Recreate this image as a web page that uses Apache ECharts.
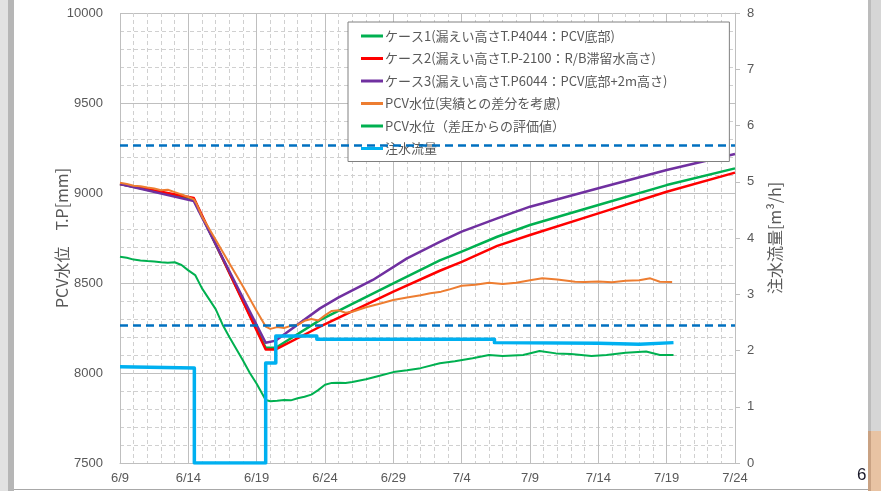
<!DOCTYPE html>
<html>
<head>
<meta charset="utf-8">
<script src="https://cdn.jsdelivr.net/npm/echarts@6/dist/echarts.min.js"></script>
<style>
html,body{margin:0;padding:0;background:#fff;}
#chart{width:881px;height:491px;}
</style>
</head>
<body>
<div id="chart"></div>
<script>
// x = days since 6/9
const xTickLabels = ['6/9','6/14','6/19','6/24','6/29','7/4','7/9','7/14','7/19','7/24'];
const seriesNames = [
  'ケース1(漏えい高さT.P4044：PCV底部)',
  'ケース2(漏えい高さT.P-2100：R/B滞留水高さ)',
  'ケース3(漏えい高さT.P6044：PCV底部+2m高さ)',
  'PCV水位(実績との差分を考慮)',
  'PCV水位（差圧からの評価値）',
  '注水流量'
];
const refLines = [9267, 8267];

const case1 = [[0,9050],[5.4,8965],[10.66,8140],[11.4,8140],[14.63,8294],[17,8384],[20,8498],[23.4,8626],[25,8674],[27.6,8757],[30,8822],[35,8933],[40,9044],[45,9137]];
const case2 = [[0,9050],[5.4,8972],[10.66,8131],[11.4,8131],[14.63,8257],[20,8452],[23.4,8568],[25,8617],[27.6,8706],[30,8767],[35,8887],[40,9007],[45,9113]];
const case3 = [[0,9050],[5.4,8955],[10.66,8168],[11.4,8180],[14.63,8359],[16,8420],[18.5,8517],[21,8637],[23.4,8728],[25,8785],[27.6,8859],[30,8924],[35,9026],[40,9128],[45,9217]];
const pcvActual = [[0,9057],[0.5,9050],[1,9040],[1.5,9038],[2,9030],[2.5,9025],[3,9015],[3.5,9018],[4,9005],[4.5,8992],[5,8978],[5.4,8965],[5.6,8940],[6,8870],[7,8740],[8,8610],[9,8480],[10,8345],[10.66,8258],[11,8245],[11.5,8255],[12,8250],[12.5,8262],[13,8268],[13.5,8290],[14,8300],[14.5,8292],[15,8320],[15.5,8345],[16,8348],[16.5,8335],[17,8340],[18,8365],[19,8385],[20,8406],[21,8420],[22,8432],[22.7,8443],[23.5,8452],[24,8462],[25,8485],[26,8490],[27,8502],[28,8495],[29,8502],[30,8515],[30.9,8526],[32,8520],[33.3,8507],[34,8505],[35,8508],[36,8504],[37,8512],[38,8515],[38.8,8526],[39.5,8507],[40.4,8506]];
const pcvDiff = [[0,8646],[0.5,8640],[1,8630],[1.5,8625],[2,8622],[2.5,8620],[3,8615],[3.5,8612],[4,8615],[4.5,8600],[5,8570],[5.5,8544],[6,8470],[7,8355],[7.5,8270],[8,8200],[9,8070],[9.5,8000],[10,7940],[10.66,7850],[11,7843],[11.5,7846],[12,7850],[12.5,7848],[13,7860],[13.5,7868],[14,7880],[14.5,7905],[15,7935],[15.5,7945],[16,7946],[16.5,7944],[17,7950],[18,7965],[19,7985],[20,8005],[21,8015],[22,8027],[23.4,8054],[24.5,8065],[25.8,8082],[27,8100],[28,8095],[29.5,8100],[30.7,8122],[31.9,8109],[33,8105],[34.5,8095],[35.6,8100],[37,8113],[38.5,8119],[39.5,8100],[40.5,8100]];
const flow = [[0,1.71],[5.44,1.69],[5.44,0],[10.66,0],[10.66,1.78],[11.4,1.78],[11.4,2.26],[14.4,2.26],[14.4,2.2],[27.4,2.2],[27.4,2.14],[35,2.13],[38,2.11],[40.5,2.14]];

const colors = ['#00b050','#ff0000','#7030a0','#ed7d31','#00b050','#00b0f0'];
const txt = '#595959';
const font = '"Liberation Sans","Noto Sans CJK JP",sans-serif';
const cjk = '"Noto Sans CJK JP",sans-serif';

const chart = echarts.init(document.getElementById('chart'), null, {renderer:'canvas'});

function lineSeries(i, data, width, extra) {
  return Object.assign({
    name: seriesNames[i], type:'line', data: data, showSymbol:false, symbol:'none',
    lineStyle:{color:colors[i], width:width, join:'round'}, itemStyle:{color:colors[i]},
    animation:false, silent:true
  }, extra || {});
}

chart.setOption({
  animation:false,
  grid:{left:120, right:146, top:13, bottom:28, containLabel:false},
  legend:{
    orient:'vertical', left:348, top:22,
    padding:[7,62,6,13], itemGap:8.5, itemWidth:22, itemHeight:3,
    icon:'rect',
    backgroundColor:'#fff', borderColor:'#808080', borderWidth:1,
    textStyle:{color:txt, fontSize:13, fontFamily:cjk, lineHeight:14, padding:[0,0,0,-3]},
    data: seriesNames.map(n=>({name:n}))
  },
  xAxis:{
    type:'value', min:0, max:45, interval:5,
    axisLine:{lineStyle:{color:'#bfbfbf'}}, axisTick:{show:false},
    axisLabel:{color:txt, fontSize:13, fontFamily:font, margin:9,
      formatter:(v)=>xTickLabels[Math.round(v/5)]},
    splitLine:{show:true, lineStyle:{color:'#bfbfbf', width:1}},
    minorTick:{show:false, splitNumber:5},
    minorSplitLine:{show:true, lineStyle:{color:'#d0d0d0', type:[4,3], width:1}}
  },
  yAxis:[{
    type:'value', min:7500, max:10000, interval:500, position:'left',
    name:'PCV水位　T.P[mm]', nameLocation:'middle', nameGap:50, nameRotate:90, nameMoveOverlap:false,
    nameTextStyle:{color:txt, fontSize:16, fontFamily:cjk},
    axisLine:{show:false}, axisTick:{show:false},
    axisLabel:{color:txt, fontSize:13, fontFamily:font, margin:17, formatter:(v)=>String(v)},
    splitLine:{show:true, lineStyle:{color:'#bfbfbf', width:1}},
    minorTick:{show:false, splitNumber:5},
    minorSplitLine:{show:true, lineStyle:{color:'#d0d0d0', type:[4,3], width:1}}
  },{
    type:'value', min:0, max:8, interval:1, position:'right',
    name:'注水流量[m³/h]', nameLocation:'middle', nameGap:32, nameRotate:90, nameMoveOverlap:false,
    nameTextStyle:{color:txt, fontSize:16, fontFamily:cjk},
    axisLine:{show:true, lineStyle:{color:'#bfbfbf'}},
    axisTick:{show:true, length:5, lineStyle:{color:'#bfbfbf'}},
    axisLabel:{color:txt, fontSize:13, fontFamily:font, margin:12},
    splitLine:{show:false}
  }],
  series:[
    lineSeries(0, case1, 2.5, {z:3, markLine:{silent:true, symbol:['none','none'], label:{show:false},
      lineStyle:{color:'#0070c0', type:[8,5], width:2.5},
      data: refLines.map(v=>({yAxis:v}))}}),
    lineSeries(1, case2, 2.5, {z:3}),
    lineSeries(2, case3, 2.5, {z:3}),
    lineSeries(3, pcvActual, 2, {z:3}),
    lineSeries(4, pcvDiff, 2, {z:3}),
    lineSeries(5, flow, 3.5, {yAxisIndex:1, z:3})
  ],
  graphic:[
    {type:'rect', shape:{x:0,y:0,width:8,height:491}, style:{fill:'#e2e2e2'}, silent:true},
    {type:'rect', shape:{x:8,y:0,width:6,height:491}, style:{fill:'#b6b6b6'}, silent:true},
    {type:'rect', shape:{x:868,y:0,width:3,height:431}, style:{fill:'#bcbcbc'}, silent:true},
    {type:'rect', shape:{x:871,y:0,width:10,height:431}, style:{fill:'#d6d6d6'}, silent:true},
    {type:'rect', shape:{x:868,y:431,width:3,height:60}, style:{fill:'#c9a283'}, silent:true},
    {type:'rect', shape:{x:871,y:431,width:10,height:60}, style:{fill:'#e8c3a3'}, silent:true},
    {type:'line', shape:{x1:14,y1:489.5,x2:868,y2:489.5}, style:{stroke:'#a8a8a8', lineWidth:1}, silent:true},
    {type:'text', left:857, top:467, style:{text:'6', fill:'#1a1a2a', fontSize:17, fontFamily:font}, silent:true}
  ]
});
</script>
</body>
</html>
